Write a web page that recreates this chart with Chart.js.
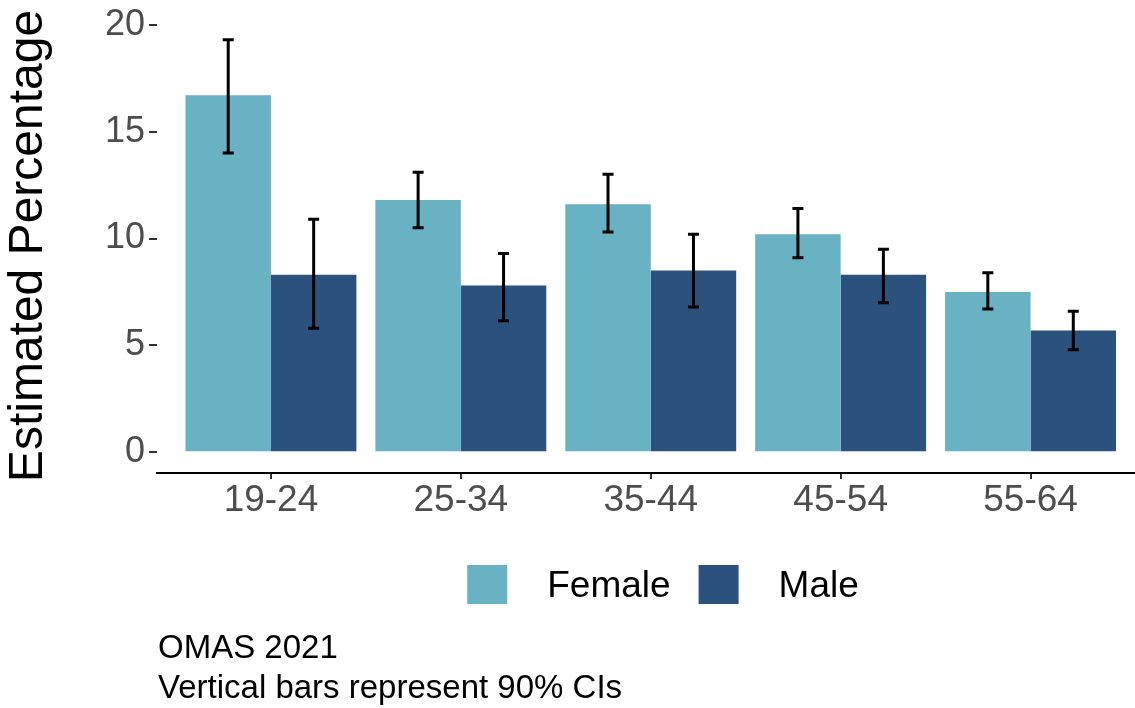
<!DOCTYPE html>
<html>
<head>
<meta charset="utf-8">
<title>Estimated Percentage by age and sex</title>
<script src="https://cdn.jsdelivr.net/npm/chart.js@4"></script>
<style>
  html, body { margin: 0; padding: 0; background: #fff; }
  #wrap { width: 1135px; height: 708px; }
</style>
</head>
<body>
<div id="wrap"><canvas id="ageChart" width="1135" height="708"></canvas></div>
<script>
const categories = ['19-24', '25-34', '35-44', '45-54', '55-64'];
const female = [16.7, 11.8, 11.6, 10.2, 7.5];
const femaleLow = [14.0, 10.5, 10.3, 9.1, 6.7];
const femaleHigh = [19.3, 13.1, 13.0, 11.4, 8.4];
const male = [8.3, 7.8, 8.5, 8.3, 5.7];
const maleLow = [5.8, 6.15, 6.8, 7.0, 4.8];
const maleHigh = [10.9, 9.3, 10.2, 9.5, 6.6];
const yTicks = [0, 5, 10, 15, 20];
const seriesNames = ['Female', 'Male'];
const captionLines = ['OMAS 2021', 'Vertical bars represent 90% CIs'];

const FONT = '"Liberation Sans", Arial, sans-serif';
const colors = ['#68b2c3', '#2a527c'];

// ggplot-like expansion: 5% on the value axis, 0.6 category on the discrete axis
const yTop = Math.max(...femaleHigh, ...maleHigh);
const yPad = yTop * 0.05;

function points(values) {
    return values.map((v, i) => ({ x: i + 1, y: v }));
}

const errorBars = {
    id: 'errorBars',
    afterDatasetsDraw(chart) {
        const ctx = chart.ctx;
        const yScale = chart.scales.y;
        const lows = [femaleLow, maleLow];
        const highs = [femaleHigh, maleHigh];
        ctx.save();
        ctx.strokeStyle = '#000';
        ctx.lineWidth = 3;
        chart.data.datasets.forEach((ds, i) => {
            chart.getDatasetMeta(i).data.forEach((bar, j) => {
                const x = bar.x;
                const y1 = yScale.getPixelForValue(highs[i][j]);
                const y2 = yScale.getPixelForValue(lows[i][j]);
                ctx.beginPath();
                ctx.moveTo(x, y1);
                ctx.lineTo(x, y2);
                ctx.moveTo(x - 5.5, y1);
                ctx.lineTo(x + 5.5, y1);
                ctx.moveTo(x - 5.5, y2);
                ctx.lineTo(x + 5.5, y2);
                ctx.stroke();
            });
        });
        ctx.restore();
    }
};

// legend and caption under the plot
const legendAndCaption = {
    id: 'legendAndCaption',
    afterDraw(chart) {
        const ctx = chart.ctx;
        ctx.save();
        ctx.font = '37px ' + FONT;
        ctx.textBaseline = 'alphabetic';
        ctx.fillStyle = '#000';
        const widths = chart.data.datasets.map(ds => ctx.measureText(ds.label).width);
        const total = widths.reduce((a, w) => a + 40 + 40 + w, 0) + 28;
        let x = 663 - total / 2;
        chart.data.datasets.forEach((ds, i) => {
            ctx.fillStyle = ds.backgroundColor;
            ctx.fillRect(x, 565, 40, 39);
            ctx.fillStyle = '#000';
            ctx.fillText(ds.label, x + 80, 597);
            x += 80 + widths[i] + 28;
        });
        ctx.font = '33px ' + FONT;
        captionLines.forEach((line, k) => {
            ctx.fillText(line, chart.chartArea.left + 1, 658 + k * 40);
        });
        ctx.restore();
    }
};

new Chart(document.getElementById('ageChart').getContext('2d'), {
    type: 'bar',
    data: {
        datasets: seriesNames.map((name, i) => ({
            label: name,
            data: points([female, male][i]),
            backgroundColor: colors[i],
            borderWidth: 0,
            categoryPercentage: 0.9,
            barPercentage: 1.0
        }))
    },
    options: {
        responsive: false,
        animation: false,
        layout: { padding: { top: 19, left: 0, right: 0, bottom: 0 } },
        plugins: {
            legend: { display: false },
            tooltip: { enabled: false }
        },
        scales: {
            x: {
                type: 'linear',
                offset: false,
                min: 0.4,
                max: 5.55,
                afterBuildTicks: (scale) => {
                    scale.ticks = categories.map((c, i) => ({ value: i + 1 }));
                },
                afterFit: (scale) => {
                    scale.height = 235;
                    scale.paddingLeft = 0;
                    scale.paddingRight = 0;
                },
                ticks: {
                    callback: (v) => categories[v - 1],
                    color: '#4d4d4d',
                    font: { family: FONT, size: 37 },
                    padding: 0,
                    maxRotation: 0,
                    autoSkip: false
                },
                grid: {
                    offset: false,
                    drawOnChartArea: false,
                    drawTicks: true,
                    tickLength: 6,
                    color: '#333',
                    lineWidth: 2
                },
                border: { display: true, color: '#000', width: 2 }
            },
            y: {
                min: -yPad,
                max: yTop + yPad,
                afterBuildTicks: (scale) => {
                    scale.ticks = yTicks.map(v => ({ value: v }));
                },
                afterFit: (scale) => {
                    scale.width = 157;
                    scale.paddingTop = 0;
                    scale.paddingBottom = 0;
                },
                ticks: {
                    color: '#4d4d4d',
                    font: { family: FONT, size: 36 },
                    padding: 4
                },
                grid: {
                    drawOnChartArea: false,
                    drawTicks: true,
                    tickLength: 8,
                    color: '#333',
                    lineWidth: 2
                },
                border: { display: false },
                title: {
                    display: true,
                    text: 'Estimated Percentage',
                    color: '#000',
                    font: { family: FONT, size: 48 },
                    padding: 0
                }
            }
        }
    },
    plugins: [errorBars, legendAndCaption]
});
</script>
</body>
</html>
